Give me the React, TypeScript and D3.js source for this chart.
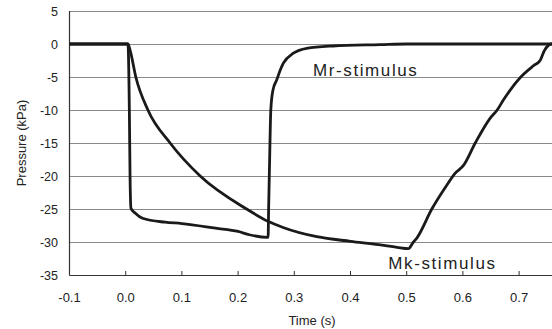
import React from "react";
import * as d3 from "d3";

const W = 552;
const H = 329;

// Mr-stimulus trace (fast response)
const mrTime = [-0.1, 0.004, 0.0065, 0.0078, 0.0094, 0.0167, 0.03, 0.07, 0.1, 0.16, 0.2, 0.22, 0.2527, 0.2534, 0.2543, 0.256, 0.2582, 0.262, 0.2689, 0.2747, 0.2806, 0.2984, 0.322, 0.369, 0.453, 0.5, 0.8];
const mrPressure = [0, 0, -10, -20.4, -24.9, -25.6, -26.4, -27.0, -27.2, -27.9, -28.4, -28.9, -29.3, -29.3, -25, -18, -10, -7, -5.4, -4, -2.9, -1.4, -0.65, -0.3, -0.1, 0, 0];

// Mk-stimulus trace (slow response)
const mkTime = [-0.1, 0.004, 0.008, 0.018, 0.0395, 0.079, 0.1325, 0.215, 0.254, 0.28, 0.34, 0.4, 0.45, 0.483, 0.503, 0.512, 0.518, 0.5447, 0.5713, 0.586, 0.601, 0.622, 0.648, 0.661, 0.672, 0.703, 0.7254, 0.7374, 0.745, 0.752, 0.757, 0.8];
const mkPressure = [0, 0, -1, -5, -10, -15, -20, -25, -26.9, -27.8, -29.2, -29.9, -30.4, -30.8, -31.0, -30.0, -29.4, -25.0, -21.4, -19.6, -18.4, -15.0, -11.3, -10.0, -8.5, -5.0, -3.3, -2.5, -1.0, -0.2, 0, 0];

const yTicks = [5, 0, -5, -10, -15, -20, -25, -30, -35];
const xTicks = [-0.1, 0.0, 0.1, 0.2, 0.3, 0.4, 0.5, 0.6, 0.7];

const xLabel = "Time (s)";
const yLabel = "Pressure (kPa)";
const mrLabel = "Mr-stimulus";
const mkLabel = "Mk-stimulus";

export default function App() {
  const x = d3.scaleLinear().domain([-0.1, 0.8]).range([69.5, 575.3]);
  const y = d3.scaleLinear().domain([-35, 5]).range([275, 11]);

  const line = d3
    .line<[number, number]>()
    .x((d) => x(d[0]))
    .y((d) => y(d[1]))
    .curve(d3.curveMonotoneX);

  const mrData = mrTime.map((t, i) => [t, mrPressure[i]] as [number, number]);
  const mkData = mkTime.map((t, i) => [t, mkPressure[i]] as [number, number]);

  const font = "'Liberation Sans', Arial, sans-serif";
  const left = x(-0.1);
  const bottom = y(-35);

  return (
    <svg
      width={W}
      height={H}
      viewBox={`0 0 ${W} ${H}`}
      style={{ position: "absolute", left: 0, top: 0, display: "block", background: "#fff" }}
    >
      <rect x={0} y={0} width={W} height={H} fill="#fff" />
      {yTicks
        .filter((v) => v !== -35)
        .map((v) => (
          <line
            key={"g" + v}
            x1={left}
            x2={W}
            y1={Math.round(y(v)) + 0.5}
            y2={Math.round(y(v)) + 0.5}
            stroke="#8a8a8a"
            strokeWidth={1}
          />
        ))}
      {/* axes */}
      <line x1={left} x2={left} y1={y(5)} y2={bottom + 0.5} stroke="#333" strokeWidth={1.2} />
      <line x1={left} x2={W} y1={Math.round(bottom) + 0.5} y2={Math.round(bottom) + 0.5} stroke="#333" strokeWidth={1.2} />
      {xTicks.map((t) => (
        <line
          key={"t" + t}
          x1={x(t)}
          x2={x(t)}
          y1={bottom}
          y2={bottom - 4}
          stroke="#333"
          strokeWidth={1}
        />
      ))}
      {/* tick labels */}
      {yTicks.map((v) => (
        <text
          key={"yl" + v}
          x={58}
          y={y(v)}
          dy="0.36em"
          textAnchor="end"
          fontFamily={font}
          fontSize={12.5}
          fill="#222"
        >
          {v}
        </text>
      ))}
      {xTicks.map((t) => (
        <text
          key={"xl" + t}
          x={x(t)}
          y={302}
          textAnchor="middle"
          fontFamily={font}
          fontSize={13}
          fill="#222"
        >
          {t.toFixed(1)}
        </text>
      ))}
      <text x={312} y={325} textAnchor="middle" fontFamily={font} fontSize={13} fill="#222">
        {xLabel}
      </text>
      <text
        transform={`translate(26,${(y(5) + bottom) / 2}) rotate(-90)`}
        textAnchor="middle"
        fontFamily={font}
        fontSize={13}
        fill="#222"
      >
        {yLabel}
      </text>
      {/* curves */}
      <path d={line(mkData) || ""} fill="none" stroke="#1a1a1a" strokeWidth={2.8} strokeLinejoin="round" />
      <path d={line(mrData) || ""} fill="none" stroke="#1a1a1a" strokeWidth={2.8} strokeLinejoin="round" />
      <text x={313} y={75.7} fontFamily={font} fontSize={17} letterSpacing={1.6} fill="#222">
        {mrLabel}
      </text>
      <text x={388.3} y={269.3} fontFamily={font} fontSize={17} letterSpacing={1.6} fill="#222">
        {mkLabel}
      </text>
    </svg>
  );
}
